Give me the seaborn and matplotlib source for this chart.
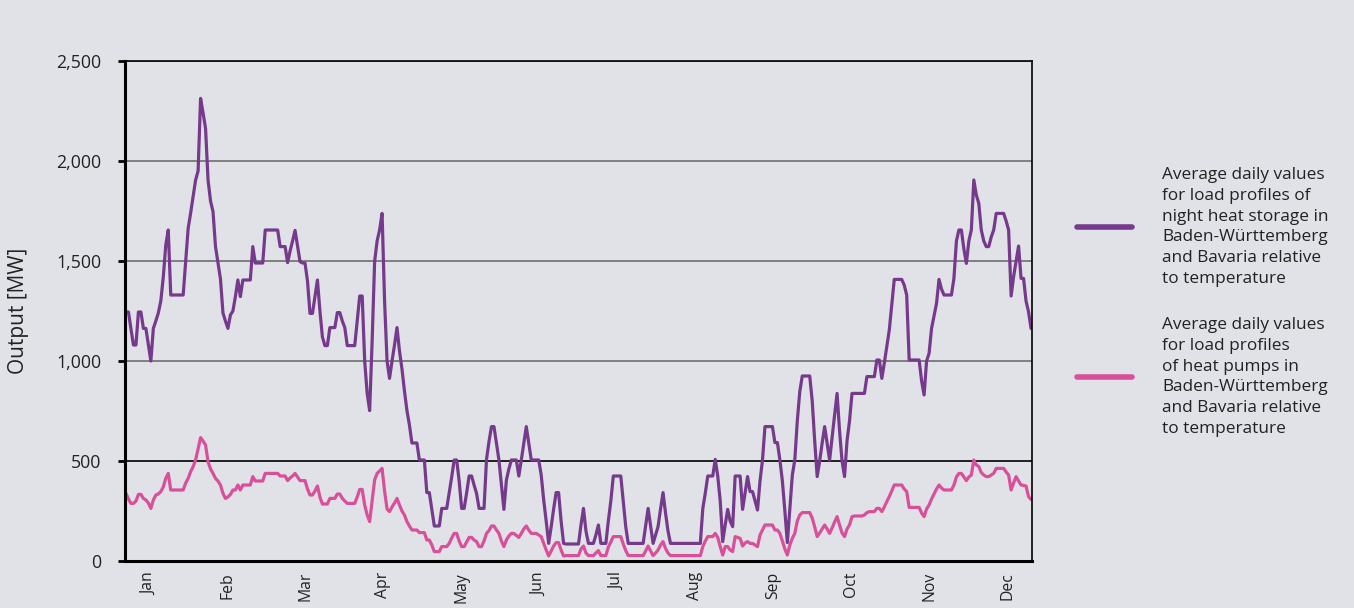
import numpy as np
import pandas as pd
import matplotlib
matplotlib.use("Agg")
import matplotlib.pyplot as plt
from matplotlib.lines import Line2D
from matplotlib.ticker import FuncFormatter, FixedLocator
import seaborn as sns

# ---------------- data (daily averages, MW) ----------------
months = ["Jan", "Feb", "Mar", "Apr", "May", "Jun", "Jul", "Aug", "Sep", "Oct", "Nov", "Dec"]

night_storage = [
    1245, 1245, 1160, 1080, 1080, 1245, 1245, 1163, 1163, 1080,  # 0-9
    1000, 1163, 1200, 1240, 1300, 1420, 1580, 1655, 1330, 1330,  # 10-19
    1330, 1330, 1330, 1330, 1500, 1663, 1740, 1822, 1905, 1950,  # 20-29
    2313, 2240, 2163, 1905, 1800, 1747, 1572, 1490, 1410, 1240,  # 30-39
    1200, 1163, 1230, 1250, 1322, 1405, 1322, 1405, 1405, 1405,  # 40-49
    1405, 1572, 1490, 1490, 1490, 1490, 1655, 1655, 1655, 1655,  # 50-59
    1655, 1655, 1572, 1572, 1572, 1492, 1550, 1600, 1653, 1575,  # 60-69
    1497, 1490, 1490, 1400, 1238, 1238, 1320, 1405, 1250, 1120,  # 70-79
    1077, 1077, 1167, 1167, 1167, 1242, 1242, 1200, 1167, 1077,  # 80-89
    1077, 1077, 1077, 1200, 1325, 1325, 1000, 838, 752, 1100,    # 90-99
    1497, 1600, 1655, 1738, 1300, 1000, 913, 1000, 1080, 1167,   # 100-109
    1050, 960, 850, 752, 680, 590, 590, 590, 505, 505,           # 110-119
    505, 342, 342, 260, 175, 175, 175, 263, 263, 263,            # 120-129
    342, 420, 505, 505, 400, 263, 263, 340, 425, 425,            # 130-139
    380, 338, 263, 263, 263, 508, 597, 672, 672, 590,            # 140-149
    505, 380, 258, 405, 460, 505, 505, 505, 425, 505,            # 150-159
    590, 672, 590, 505, 505, 505, 505, 430, 305, 200,            # 160-169
    88, 170, 260, 342, 342, 200, 88, 85, 85, 85,                 # 170-179
    85, 85, 85, 180, 263, 150, 88, 88, 88, 130,                  # 180-189
    180, 88, 88, 88, 200, 300, 425, 425, 425, 425,               # 190-199
    300, 172, 88, 88, 88, 88, 88, 88, 88, 175,                   # 200-209
    263, 175, 88, 130, 172, 260, 342, 240, 150, 88,              # 210-219
    88, 88, 88, 88, 88, 88, 88, 88, 88, 88,                      # 220-229
    88, 88, 263, 340, 425, 425, 425, 508, 425, 300,              # 230-239
    97, 180, 258, 200, 172, 425, 425, 425, 258, 340,             # 240-249
    422, 347, 347, 300, 255, 400, 505, 672, 672, 672,            # 250-259
    672, 592, 592, 505, 400, 250, 92, 260, 430, 505,             # 260-269
    700, 847, 925, 925, 925, 925, 800, 600, 422, 500,            # 270-279
    590, 672, 590, 505, 620, 730, 838, 650, 500, 422,            # 280-289
    600, 700, 838, 838, 838, 838, 838, 838, 922, 922,            # 290-299
    922, 922, 1005, 1005, 913, 990, 1072, 1155, 1280, 1408,      # 300-309
    1408, 1408, 1408, 1380, 1330, 1005, 1005, 1005, 1005, 1005,  # 310-319
    900, 830, 1000, 1038, 1163, 1225, 1288, 1408, 1360, 1330,    # 320-329
    1330, 1330, 1330, 1413, 1600, 1655, 1655, 1560, 1488, 1600,  # 330-339
    1655, 1905, 1830, 1788, 1655, 1600, 1572, 1572, 1620, 1655,  # 340-349
    1738, 1738, 1738, 1738, 1700, 1655, 1325, 1422, 1500, 1575,  # 350-359
    1413, 1413, 1300, 1247, 1163,                                # 360-364
]

heat_pumps = [
    338, 310, 288, 288, 300, 333, 333, 313, 305, 290,            # 0-9
    263, 305, 330, 335, 347, 370, 413, 438, 355, 355,            # 10-19
    355, 355, 355, 355, 390, 413, 447, 472, 505, 560,            # 20-29
    617, 600, 580, 497, 460, 438, 413, 400, 380, 338,            # 30-39
    313, 320, 333, 355, 355, 380, 355, 380, 380, 380,            # 40-49
    380, 422, 400, 400, 400, 400, 438, 438, 438, 438,            # 50-59
    438, 438, 425, 425, 425, 402, 415, 425, 438, 420,            # 60-69
    402, 402, 402, 360, 330, 330, 350, 375, 320, 285,            # 70-79
    285, 285, 313, 313, 313, 335, 335, 313, 300, 288,            # 80-89
    288, 288, 288, 320, 358, 358, 280, 230, 197, 300,            # 90-99
    405, 438, 450, 463, 350, 260, 247, 270, 290, 313,            # 100-109
    280, 250, 230, 197, 175, 155, 155, 155, 142, 142,            # 110-119
    142, 105, 105, 80, 47, 47, 47, 72, 72, 72,                   # 120-129
    88, 115, 138, 138, 100, 72, 72, 95, 118, 118,                # 130-139
    105, 97, 72, 72, 100, 138, 152, 175, 175, 155,               # 140-149
    138, 100, 72, 105, 125, 138, 138, 128, 118, 138,             # 150-159
    160, 175, 155, 138, 138, 138, 130, 122, 88, 55,              # 160-169
    25, 50, 75, 92, 92, 55, 25, 27, 27, 27,                      # 170-179
    27, 27, 27, 60, 75, 40, 27, 27, 27, 40,                      # 180-189
    52, 27, 27, 27, 70, 95, 122, 122, 122, 122,                  # 190-199
    85, 52, 27, 27, 27, 27, 27, 27, 27, 50,                      # 200-209
    75, 50, 27, 40, 55, 80, 97, 63, 40, 27,                      # 210-219
    27, 27, 27, 27, 27, 27, 27, 27, 27, 27,                      # 220-229
    27, 27, 72, 100, 122, 122, 122, 138, 118, 72,                # 230-239
    30, 72, 72, 55, 47, 122, 118, 113, 75, 90,                   # 240-249
    97, 88, 88, 80, 72, 130, 155, 180, 180, 180,                 # 250-259
    180, 155, 155, 138, 100, 60, 30, 80, 113, 138,               # 260-269
    200, 230, 242, 242, 242, 242, 215, 170, 122, 140,            # 270-279
    160, 180, 160, 138, 165, 195, 222, 180, 140, 122,            # 280-289
    160, 180, 222, 225, 225, 225, 225, 230, 242, 247,            # 290-299
    247, 247, 263, 263, 247, 270, 297, 322, 350, 380,            # 300-309
    380, 380, 380, 360, 347, 268, 268, 268, 268, 268,            # 310-319
    240, 222, 260, 280, 310, 335, 360, 380, 365, 355,            # 320-329
    355, 355, 355, 380, 420, 438, 438, 420, 402, 420,            # 330-339
    430, 505, 480, 472, 442, 430, 422, 422, 430, 438,            # 340-349
    463, 463, 463, 463, 445, 430, 355, 390, 422, 400,            # 350-359
    380, 378, 375, 322, 308,                                     # 360-364
]

label_storage = ("Average daily values\nfor load profiles of\nnight heat storage in\n"
                 "Baden-Württemberg\nand Bavaria relative\nto temperature")
label_pumps = ("Average daily values\nfor load profiles\nof heat pumps in\n"
               "Baden-Württemberg\nand Bavaria relative\nto temperature")

# ---------------- styling ----------------
BG = "#E1E2E7"
PURPLE = "#763A8C"
PINK = "#D8509A"
TXT = "#222222"

sns.set_theme(style="white")
plt.rcParams["font.family"] = ["Open Sans", "DejaVu Sans"]

days = np.arange(len(night_storage))
df = pd.DataFrame({
    "day": np.concatenate([days, days]),
    "value": night_storage + heat_pumps,
    "series": [label_storage] * len(days) + [label_pumps] * len(days),
})

fig = plt.figure(figsize=(13.54, 6.08), dpi=100, facecolor=BG)
ax = fig.add_axes([125 / 1354, 1 - 561 / 608, (1032 - 125) / 1354, 500 / 608])
ax.set_facecolor(BG)

sns.lineplot(data=df, x="day", y="value", hue="series",
             palette={label_storage: PURPLE, label_pumps: PINK},
             linewidth=2.3, ax=ax, legend=False)

ax.set_xlim(-0.4, len(days) - 0.6)
ax.set_ylim(0, 2500)
ax.set_yticks(np.arange(0, 2501, 500))
ax.yaxis.set_major_formatter(FuncFormatter(lambda v, p: f"{int(v):,}"))

# month labels evenly spread over the year
step = (len(days) - 20) / 11
ax.set_xticks(9.4 + step * np.arange(12))
ax.set_xticklabels(months, rotation=90, fontsize=11.3, color=TXT)
ax.tick_params(axis="x", length=0, pad=8)
ax.xaxis.set_minor_locator(FixedLocator([ax.get_xlim()[1]]))
ax.tick_params(axis="x", which="minor", length=6, width=1.5, color="black")

ax.tick_params(axis="y", length=5, width=2, color="black", pad=12,
               labelsize=12.8, labelcolor=TXT, left=True)

ax.set_xlabel("")
ax.set_ylabel("Output [MW]", fontsize=15, color=TXT)
ax.yaxis.set_label_coords(-0.106, 0.5)

# gridlines
ax.yaxis.grid(True, color="#6E6E6E", linewidth=1.2)
ax.xaxis.grid(False)
gl = ax.get_ygridlines()
if len(gl) > 1:
    gl[1].set_color("black")
ax.set_axisbelow(True)

for side in ["left", "bottom"]:
    ax.spines[side].set_linewidth(2.2)
    ax.spines[side].set_color("black")
for side in ["top", "right"]:
    ax.spines[side].set_linewidth(1.2)
    ax.spines[side].set_color("black")

handles = [Line2D([0], [0], color=PURPLE, lw=4, solid_capstyle="round"),
           Line2D([0], [0], color=PINK, lw=4, solid_capstyle="round")]
leg = fig.legend(handles, [label_storage, label_pumps],
                 loc="center left", bbox_to_anchor=(1077 / 1354, 1 - 302 / 608),
                 frameon=False, fontsize=12.4, handlelength=3.2, handletextpad=1.75,
                 labelspacing=1.75, borderpad=0, borderaxespad=0)
for t in leg.get_texts():
    t.set_color(TXT)
    t.set_linespacing(1.4)

fig.savefig("out.png", dpi=100, facecolor=BG)
